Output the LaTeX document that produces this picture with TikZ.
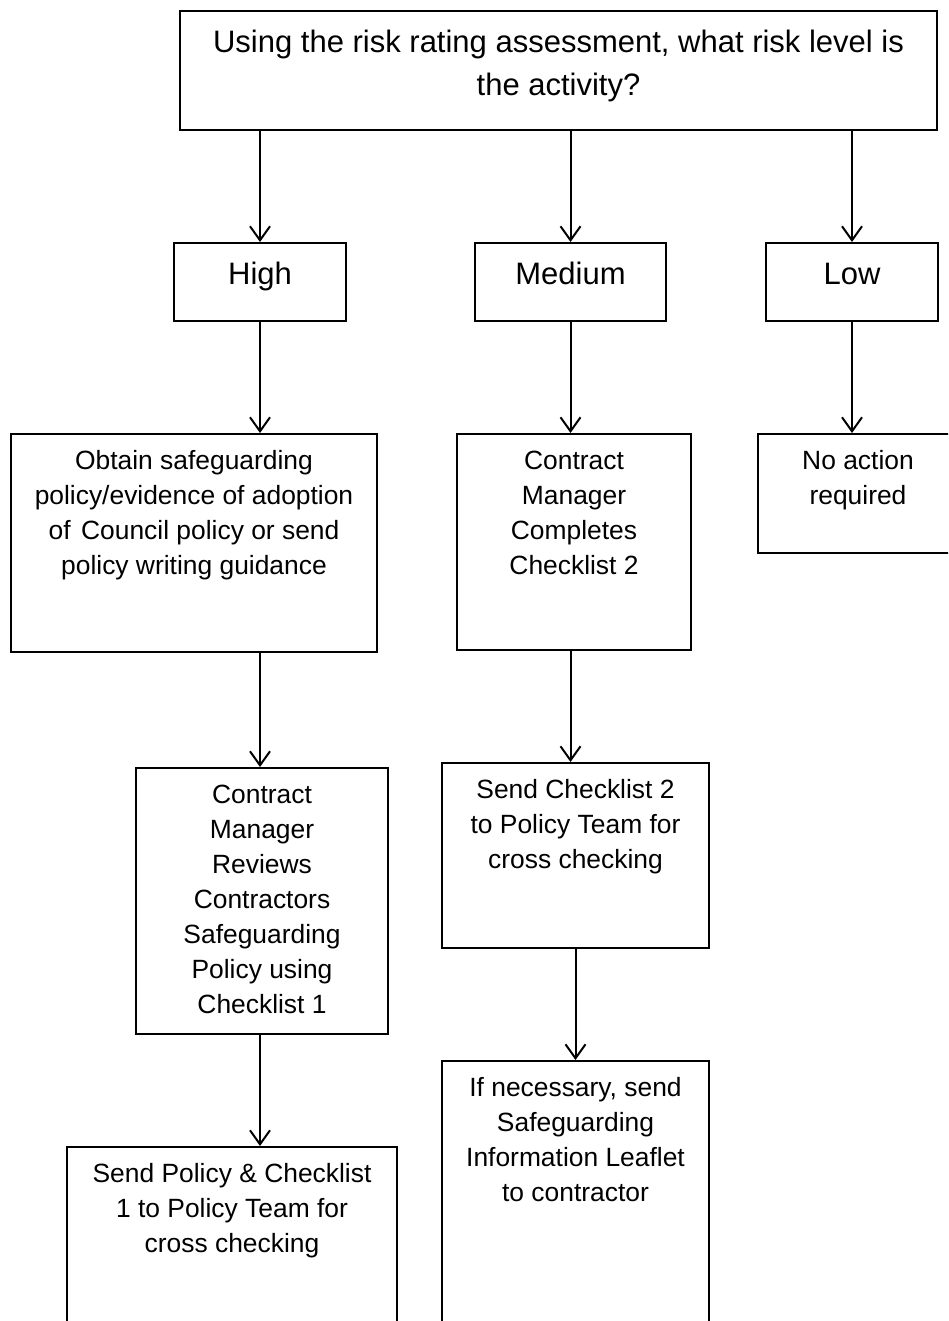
\documentclass[tikz,border=0pt]{standalone}
\usepackage{fontspec}
\setmainfont{Liberation Sans}
\usetikzlibrary{arrows.meta}
\newcommand{\boxtext}[3]{\parbox[c][#2pt][t]{#1pt}{\centering\rule{0pt}{1.35em}#3}}
\tikzset{
  box/.style={draw,line width=1pt,inner sep=0pt,anchor=north west},
  bigbox/.style={box,font=\fontsize{15.5}{21.5}\selectfont},
  smallbox/.style={box,font=\fontsize{13.2}{17.5}\selectfont},
  arr/.style={line width=1pt,-{Straight Barb[length=7pt,width=10pt,line width=1pt]}}
}
\begin{document}
\begin{tikzpicture}[x=0.5pt,y=-0.5pt]
\useasboundingbox (0,0) rectangle (948,1321);
\clip (0,0) rectangle (948,1321);
\node[bigbox] (top) at (179,10) {\boxtext{378.5}{59.5}{Using the risk rating assessment, what risk level is\\the activity?}};
\node[bigbox] (high) at (173,242) {\boxtext{86}{39}{High}};
\node[bigbox] (medium) at (474,242) {\boxtext{95.5}{39}{Medium}};
\node[bigbox] (low) at (765,242) {\boxtext{86}{39}{Low}};
\node[smallbox] (obtain) at (10,433) {\boxtext{183}{109}{Obtain safeguarding\\policy/evidence of adoption\\of\hspace{0.4em}Council policy or send\\policy writing guidance}};
\node[smallbox] (completes) at (456,433) {\boxtext{117}{108}{Contract\\Manager\\Completes\\Checklist 2}};
\node[smallbox] (noaction) at (757,433) {\boxtext{100}{59.5}{No action\\required}};
\node[smallbox] (reviews) at (135,767) {\boxtext{126}{133}{Contract\\Manager\\Reviews\\Contractors\\Safeguarding\\Policy using\\Checklist 1}};
\node[smallbox] (sendchk) at (441,762) {\boxtext{133.5}{92.5}{Send Checklist 2\\to Policy Team for\\cross checking}};
\node[smallbox] (sendpol) at (66,1146) {\boxtext{165}{110}{Send Policy \& Checklist\\1 to Policy Team for\\cross checking}};
\node[smallbox] (ifnec) at (441,1060) {\boxtext{133.5}{150}{If necessary, send\\Safeguarding\\Information Leaflet\\to contractor}};
\foreach \n in {high,medium,low}{\draw[arr] (top.south -| \n.north) -- (\n.north);}
\draw[arr] (high.south) -- (high.south |- obtain.north);
\draw[arr] (medium.south) -- (medium.south |- completes.north);
\draw[arr] (low.south) -- (low.south |- noaction.north);
\draw[arr] (high.south |- obtain.south) -- (high.south |- reviews.north);
\draw[arr] (medium.south |- completes.south) -- (medium.south |- sendchk.north);
\draw[arr] (high.south |- reviews.south) -- (high.south |- sendpol.north);
\draw[arr] (sendchk.south) -- (ifnec.north);
\end{tikzpicture}
\end{document}
